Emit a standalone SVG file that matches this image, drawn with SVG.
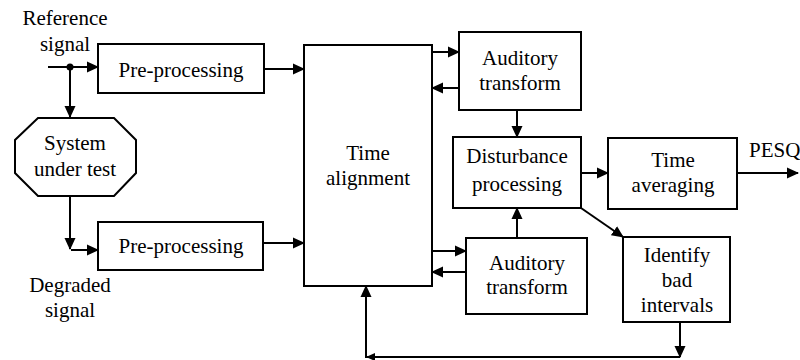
<svg xmlns="http://www.w3.org/2000/svg" width="800" height="360" viewBox="0 0 800 360">
<style>
.box{fill:#fff;stroke:#000;stroke-width:2}
.t{font-family:'Liberation Serif','Times New Roman',serif;font-size:21px;fill:#000;text-anchor:middle}
.c{fill:none;stroke:#000;stroke-width:2}
</style>
<defs>
<marker id="ah" markerUnits="userSpaceOnUse" markerWidth="12" markerHeight="12" refX="11" refY="6" orient="auto" viewBox="0 0 12 12">
<path d="M0,0.5 L12,6 L0,11.5 z" fill="#000"/>
</marker>
<marker id="ahs" markerUnits="userSpaceOnUse" markerWidth="9" markerHeight="9" refX="8" refY="4.5" orient="auto" viewBox="0 0 9 9">
<path d="M0,0.5 L9,4.5 L0,8.5 z" fill="#000"/>
</marker>
</defs>
<rect width="800" height="360" fill="#fff"/>

<g id="labels">
<text class="t" x="65" y="25">Reference</text>
<text class="t" x="65" y="51">signal</text>
<text class="t" x="70" y="292">Degraded</text>
<text class="t" x="70" y="317">signal</text>
<text class="t" x="749" y="157" style="text-anchor:start">PESQ</text>
</g>

<g id="connectors">
<line class="c" x1="48" y1="67" x2="98" y2="67" marker-end="url(#ah)"/>
<circle cx="70" cy="67" r="3.5" fill="#000"/>
<line class="c" x1="70" y1="67" x2="70" y2="117" marker-end="url(#ah)"/>
<line class="c" x1="264" y1="69" x2="304" y2="69" marker-end="url(#ah)"/>
<line class="c" x1="70" y1="196" x2="70" y2="249" marker-end="url(#ah)"/>
<line class="c" x1="71" y1="250" x2="98" y2="250" marker-end="url(#ah)"/>
<line class="c" x1="263" y1="243" x2="304" y2="243" marker-end="url(#ah)"/>
<line class="c" x1="432" y1="52" x2="459" y2="52" marker-end="url(#ah)"/>
<line class="c" x1="459" y1="88" x2="432" y2="88" marker-end="url(#ah)"/>
<line class="c" x1="517" y1="110" x2="517" y2="137" marker-end="url(#ah)"/>
<line class="c" x1="517" y1="238" x2="517" y2="208" marker-end="url(#ah)"/>
<line class="c" x1="432" y1="251" x2="466" y2="251" marker-end="url(#ah)"/>
<line class="c" x1="466" y1="272" x2="432" y2="272" marker-end="url(#ah)"/>
<line class="c" x1="581" y1="173" x2="608" y2="173" marker-end="url(#ah)"/>
<line class="c" x1="737" y1="173" x2="798" y2="173" marker-end="url(#ah)"/>
<line class="c" x1="581" y1="208" x2="623" y2="237" marker-end="url(#ah)"/>
<line class="c" x1="680" y1="322" x2="680" y2="357" marker-end="url(#ah)"/>
<line class="c" x1="680" y1="357" x2="367" y2="357" marker-end="url(#ahs)"/>
<line class="c" x1="366" y1="358" x2="366" y2="286" marker-end="url(#ah)"/>
</g>

<g id="sut">
<polygon class="box" points="38,118 114,118 136,140 136,173 114,196 38,196 15,173 15,140"/>
<text class="t" x="75" y="150">System</text>
<text class="t" x="75" y="176">under test</text>
</g>

<g id="pre1">
<rect class="box" x="98" y="44" width="166" height="49"/>
<text class="t" x="181" y="77">Pre-processing</text>
</g>

<g id="pre2">
<rect class="box" x="98" y="222" width="165" height="48"/>
<text class="t" x="181" y="253">Pre-processing</text>
</g>

<g id="timealign">
<rect class="box" x="304" y="45" width="128" height="241"/>
<text class="t" x="368" y="160">Time</text>
<text class="t" x="368" y="185">alignment</text>
</g>

<g id="aud1">
<rect class="box" x="459" y="32" width="122" height="78"/>
<text class="t" x="520" y="65">Auditory</text>
<text class="t" x="520" y="90">transform</text>
</g>

<g id="dist">
<rect class="box" x="453" y="137" width="128" height="71"/>
<text class="t" x="517" y="163">Disturbance</text>
<text class="t" x="517" y="191">processing</text>
</g>

<g id="aud2">
<rect class="box" x="466" y="238" width="121" height="76"/>
<text class="t" x="527" y="270">Auditory</text>
<text class="t" x="527" y="294">transform</text>
</g>

<g id="tavg">
<rect class="box" x="608" y="138" width="129" height="71"/>
<text class="t" x="673" y="167">Time</text>
<text class="t" x="673" y="192">averaging</text>
</g>

<g id="bad">
<rect class="box" x="623" y="237" width="107" height="85"/>
<text class="t" x="677" y="262">Identify</text>
<text class="t" x="677" y="287">bad</text>
<text class="t" x="677" y="312">intervals</text>
</g>
</svg>
